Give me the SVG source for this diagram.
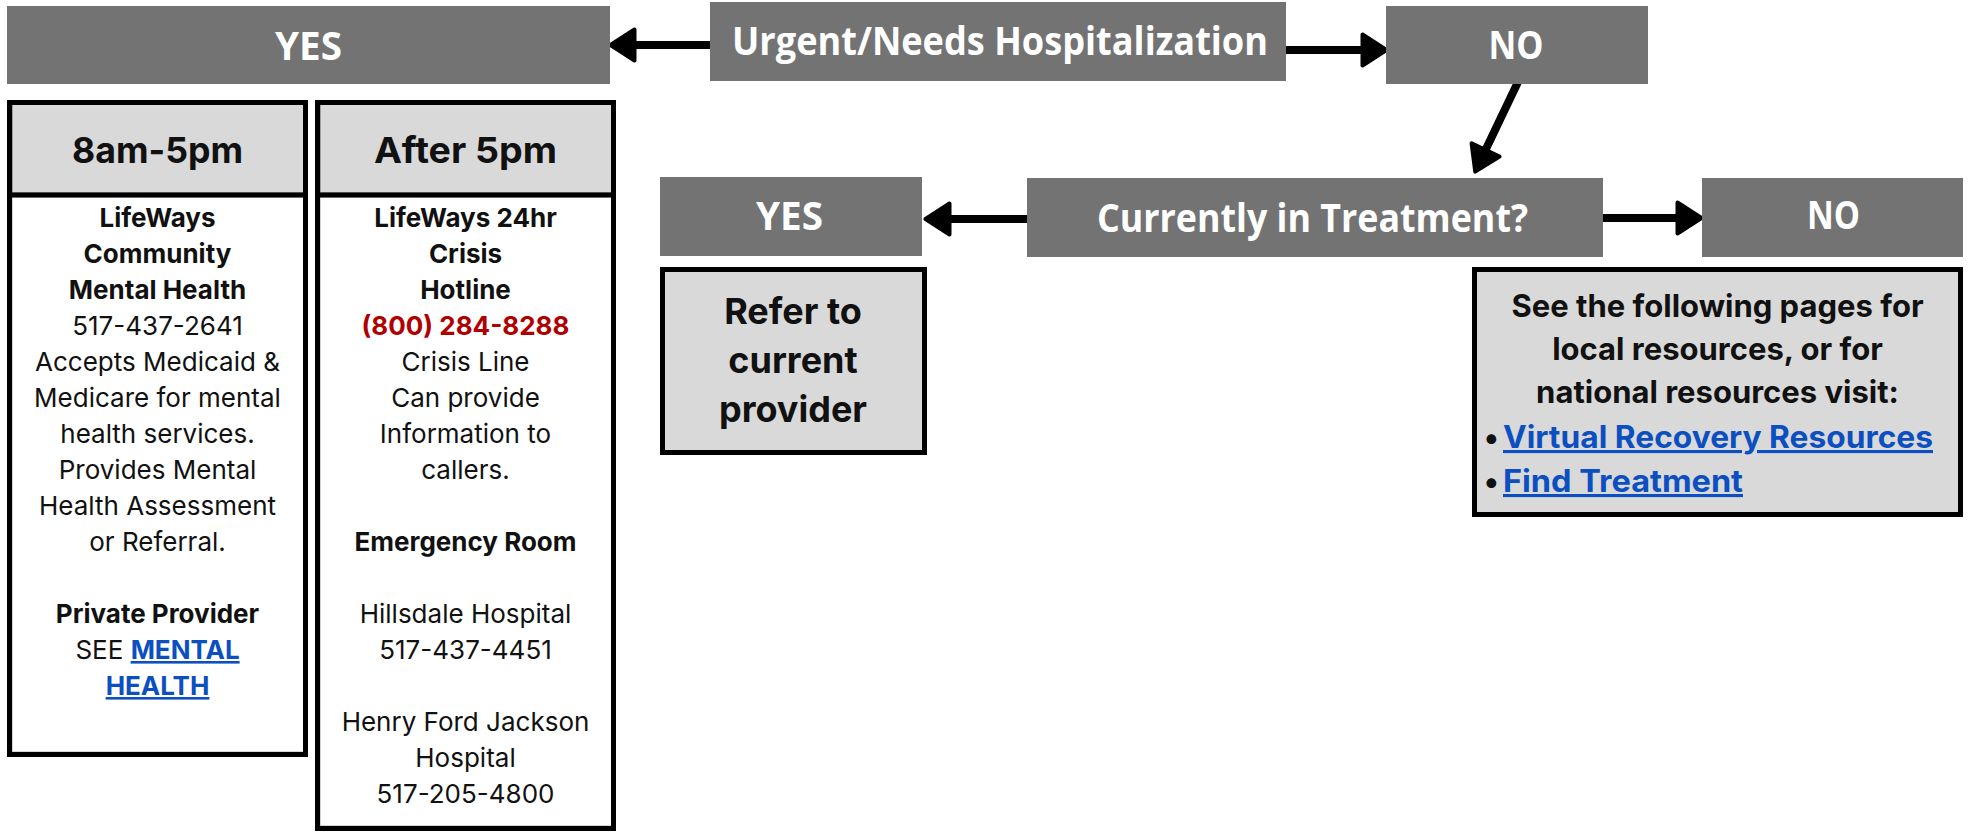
<svg xmlns="http://www.w3.org/2000/svg" width="1970" height="832" viewBox="0 0 1970 832">
<style>
.dark{fill:#737373}
.hd{font-family:"Open Sans","Noto Sans",sans-serif;font-weight:700;fill:#ffffff;text-anchor:middle;font-size:39px}
.frame{fill:none;stroke:#000;stroke-width:5}
.light{fill:#d9d9d9;stroke:#8a8a8a;stroke-width:1.5}
.body{fill:#fff;stroke:#a8a8a8;stroke-width:1}
.t{font-family:Inter,"Noto Sans",sans-serif;font-size:26px;fill:#111;text-anchor:middle}
.b{font-weight:700}
.sub{font-family:Inter,"Noto Sans",sans-serif;font-weight:700;font-size:36px;fill:#111;text-anchor:middle}
.red{fill:#b00000}
.conn{stroke:#000;stroke-width:8;fill:none;marker-end:url(#ah)}
.res{font-family:Inter,"Noto Sans",sans-serif;font-weight:700;font-size:31px;fill:#111}
.link,.res.link,.t.link{fill:#0b4fc0;font-weight:700;text-decoration:underline}
</style>
<defs>
<marker id="ah" markerUnits="userSpaceOnUse" viewBox="0 0 30 36" markerWidth="30" markerHeight="36" refX="14" refY="18" orient="auto">
<path d="M2.5,2.5 L26.5,18 L2.5,33.5 Z" fill="#000" stroke="#000" stroke-width="4" stroke-linejoin="round"/>
</marker>
</defs>
<rect width="1970" height="832" fill="#fff"/>
<g id="connectors">
<line class="conn" x1="712" y1="45" x2="623" y2="45"/>
<line class="conn" x1="1284" y1="50" x2="1374" y2="50"/>
<line class="conn" x1="1518" y1="82" x2="1480.6" y2="160.3"/>
<line class="conn" x1="1029" y1="219" x2="938" y2="219"/>
<line class="conn" x1="1601" y1="218" x2="1689" y2="218"/>
</g>
<g id="yes-top">
<rect class="dark" x="7" y="6" width="603" height="78"/>
<text class="hd" x="308.5" y="60" textLength="67" lengthAdjust="spacingAndGlyphs">YES</text>
</g>
<g id="urgent">
<rect class="dark" x="710" y="2" width="576" height="79"/>
<text class="hd" x="1000" y="55" textLength="536" lengthAdjust="spacingAndGlyphs">Urgent/Needs Hospitalization</text>
</g>
<g id="no-top">
<rect class="dark" x="1386" y="6" width="262" height="78"/>
<text class="hd" x="1516" y="59" textLength="55" lengthAdjust="spacingAndGlyphs">NO</text>
</g>
<g id="hours-day">
<rect class="light" x="12" y="104" width="293" height="89"/>
<rect class="body" x="12" y="197" width="293" height="555"/>
<rect class="frame" x="9.5" y="102.5" width="296" height="652"/>
<line x1="9.5" y1="195" x2="305.5" y2="195" stroke="#000" stroke-width="5"/>
<text class="sub" x="157.5" y="163" textLength="171" lengthAdjust="spacingAndGlyphs">8am-5pm</text>
<text class="t b" x="157.5" y="227">LifeWays</text>
<text class="t b" x="157.5" y="263">Community</text>
<text class="t b" x="157.5" y="299">Mental Health</text>
<text class="t" x="157.5" y="335">517-437-2641</text>
<text class="t" x="157.5" y="371">Accepts Medicaid &amp;</text>
<text class="t" x="157.5" y="407">Medicare for mental</text>
<text class="t" x="157.5" y="443">health services.</text>
<text class="t" x="157.5" y="479">Provides Mental</text>
<text class="t" x="157.5" y="515">Health Assessment</text>
<text class="t" x="157.5" y="551">or Referral.</text>
<text class="t b" x="157.5" y="623">Private Provider</text>
<text class="t" x="157.5" y="659">SEE <tspan class="link">MENTAL</tspan></text>
<text class="t link" x="157.5" y="695">HEALTH</text>
</g>
<g id="hours-night">
<rect class="light" x="320" y="104" width="293" height="89"/>
<rect class="body" x="320" y="197" width="293" height="629"/>
<rect class="frame" x="317.5" y="102.5" width="296" height="726"/>
<line x1="317.5" y1="195" x2="613.5" y2="195" stroke="#000" stroke-width="5"/>
<text class="sub" x="465.5" y="163" textLength="183" lengthAdjust="spacingAndGlyphs">After 5pm</text>
<text class="t b" x="465.5" y="227">LifeWays 24hr</text>
<text class="t b" x="465.5" y="263">Crisis</text>
<text class="t b" x="465.5" y="299">Hotline</text>
<text class="t b red" x="465.5" y="335">(800) 284-8288</text>
<text class="t" x="465.5" y="371">Crisis Line</text>
<text class="t" x="465.5" y="407">Can provide</text>
<text class="t" x="465.5" y="443">Information to</text>
<text class="t" x="465.5" y="479">callers.</text>
<text class="t b" x="465.5" y="551">Emergency Room</text>
<text class="t" x="465.5" y="623">Hillsdale Hospital</text>
<text class="t" x="465.5" y="659">517-437-4451</text>
<text class="t" x="465.5" y="731">Henry Ford Jackson</text>
<text class="t" x="465.5" y="767">Hospital</text>
<text class="t" x="465.5" y="803">517-205-4800</text>
</g>
<g id="in-treatment">
<rect class="dark" x="1027" y="178" width="576" height="79"/>
<text class="hd" x="1312.5" y="232" textLength="431" lengthAdjust="spacingAndGlyphs">Currently in Treatment?</text>
</g>
<g id="yes-lower">
<rect class="dark" x="660" y="177" width="262" height="79"/>
<text class="hd" x="789.5" y="230" textLength="67" lengthAdjust="spacingAndGlyphs">YES</text>
</g>
<g id="refer">
<rect x="662.5" y="269.5" width="262" height="183" fill="#d9d9d9" stroke="#000" stroke-width="5"/>
<text class="sub" x="793" y="324" font-size="36">Refer to</text>
<text class="sub" x="793" y="373" font-size="36">current</text>
<text class="sub" x="793" y="422" font-size="36">provider</text>
</g>
<g id="no-lower">
<rect class="dark" x="1702" y="178" width="261" height="79"/>
<text class="hd" x="1833.5" y="229" textLength="53" lengthAdjust="spacingAndGlyphs">NO</text>
</g>
<g id="resources">
<rect x="1474.5" y="269.5" width="486" height="245" fill="#d9d9d9" stroke="#000" stroke-width="5"/>
<text class="res" x="1717.5" y="317" text-anchor="middle">See the following pages for</text>
<text class="res" x="1717.5" y="360" text-anchor="middle">local resources, or for</text>
<text class="res" x="1717.5" y="403" text-anchor="middle">national resources visit:</text>
<text class="res" x="1484" y="448">•</text>
<text class="res link" x="1503" y="448" textLength="430" lengthAdjust="spacingAndGlyphs">Virtual Recovery Resources</text>
<text class="res" x="1484" y="492">•</text>
<text class="res link" x="1503" y="492" textLength="240" lengthAdjust="spacingAndGlyphs">Find Treatment</text>
</g>
</svg>
